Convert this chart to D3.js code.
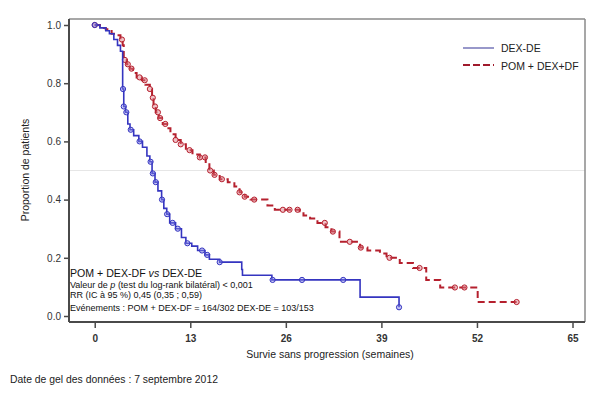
<!DOCTYPE html>
<html>
<head>
<meta charset="utf-8">
<script src="https://cdn.jsdelivr.net/npm/d3@7"></script>
<style>
  body { margin: 0; background: #fff; }
  text { font-family: Arial, "Liberation Sans", sans-serif; }
</style>
</head>
<body>
<div id="chart"></div>
<script>
// weeks / survival proportion
const xTicks = [0, 13, 26, 39, 52, 65];
const yTicks = [0, 0.2, 0.4, 0.6, 0.8, 1.0];

const dexTimes = [0, 0.7, 1.5, 2.0, 2.6, 3.1, 3.5, 3.8, 3.95, 4.2, 4.5, 4.8, 5.3, 6.0, 6.5, 7.1, 7.5, 7.8, 8.2, 8.6, 9.1, 9.4, 9.8, 10.2, 11.0, 11.8, 12.4, 13.2, 14.0, 15.0, 15.6, 17.0, 20.0, 20.1, 24.1, 36.1, 41.4];
const dexSurv  = [1, 0.99, 0.98, 0.97, 0.95, 0.93, 0.91, 0.78, 0.72, 0.70, 0.66, 0.64, 0.62, 0.60, 0.58, 0.55, 0.53, 0.49, 0.46, 0.43, 0.40, 0.37, 0.35, 0.32, 0.30, 0.27, 0.25, 0.24, 0.225, 0.21, 0.195, 0.185, 0.16, 0.14, 0.124, 0.065, 0.03];
const dexCensor = [0, 3.85, 3.95, 4.3, 4.9, 6.1, 7.6, 7.9, 8.3, 9.15, 9.85, 10.6, 11.3, 12.6, 14.6, 15.3, 17.0, 24.2, 28.2, 33.8, 41.4];

const pomTimes = [0, 0.7, 1.5, 2.3, 3.0, 3.5, 3.8, 3.95, 4.35, 4.8, 5.2, 5.7, 6.4, 6.9, 7.5, 7.8, 8.0, 8.3, 8.7, 9.25, 9.8, 10.3, 11.0, 11.7, 12.4, 13.3, 14.3, 15.1, 15.6, 16.2, 17.0, 18.1, 19.0, 19.7, 20.4, 21.2, 23.5, 24.5, 27.9, 28.4, 29.3, 30.3, 31.4, 32.2, 33.3, 36.1, 37.1, 38.8, 39.7, 41.5, 43.3, 45.1, 47.0, 52.1, 57.4];
const pomSurv  = [1, 0.99, 0.985, 0.97, 0.965, 0.95, 0.93, 0.88, 0.865, 0.85, 0.835, 0.82, 0.81, 0.795, 0.78, 0.75, 0.72, 0.70, 0.68, 0.66, 0.645, 0.625, 0.605, 0.59, 0.57, 0.555, 0.545, 0.525, 0.50, 0.485, 0.47, 0.46, 0.445, 0.425, 0.41, 0.40, 0.38, 0.365, 0.36, 0.345, 0.335, 0.32, 0.305, 0.29, 0.255, 0.235, 0.225, 0.215, 0.20, 0.182, 0.165, 0.124, 0.098, 0.048, 0.048];
const pomCensor = [0, 3.7, 4.1, 4.5, 5.0, 6.1, 6.8, 7.5, 7.9, 8.2, 8.6, 8.9, 9.6, 11.0, 11.7, 12.9, 14.3, 15.0, 15.7, 16.3, 17.3, 19.7, 20.4, 21.7, 25.6, 26.5, 27.6, 31.3, 32.4, 34.7, 36.2, 40.1, 44.2, 49.0, 50.3, 57.4];

const W = 605, H = 394;
const frame = { left: 69, top: 19, right: 585, bottom: 322 };

const svg = d3.select("#chart").append("svg")
  .attr("width", W)
  .attr("height", H);

const x = d3.scaleLinear().domain([-3.5, 66.7]).range([frame.left, frame.right]);
const y = d3.scaleLinear().domain([0, 1]).range([316, 25]);

// reference line at 0.5
svg.append("line")
  .attr("x1", frame.left).attr("x2", frame.right)
  .attr("y1", y(0.5)).attr("y2", y(0.5))
  .attr("stroke", "#e6e6e6").attr("stroke-width", 1);

// frame
svg.append("line").attr("x1", frame.left).attr("x2", frame.right).attr("y1", frame.top).attr("y2", frame.top)
  .attr("stroke", "#8a8a8a").attr("stroke-width", 1.5);
svg.append("line").attr("x1", frame.right).attr("x2", frame.right).attr("y1", frame.top).attr("y2", frame.bottom)
  .attr("stroke", "#8a8a8a").attr("stroke-width", 1.5);

const yAxis = svg.append("g")
  .attr("transform", "translate(" + frame.left + ",0)")
  .call(d3.axisLeft(y).tickValues(yTicks).tickFormat(d3.format(".1f")).tickSize(5).tickPadding(3));
yAxis.select(".domain").attr("d", "M0," + frame.top + "V" + frame.bottom);

const xAxis = svg.append("g")
  .attr("transform", "translate(0," + frame.bottom + ")")
  .call(d3.axisBottom(x).tickValues(xTicks).tickSize(6).tickPadding(7));
xAxis.select(".domain").attr("d", "M" + frame.left + ",0H" + frame.right);

svg.selectAll(".domain").attr("stroke", "#4a4a4a").attr("stroke-width", 2);
svg.selectAll(".tick line").attr("stroke", "#4a4a4a").attr("stroke-width", 1.5);
svg.selectAll(".tick text").attr("fill", "#333").style("font-size", "10px")
  .style("font-family", "Arial, sans-serif");
xAxis.selectAll(".tick text").style("font-weight", "bold");

// curves
const line = d3.line()
  .x(d => x(d[0]))
  .y(d => y(d[1]))
  .curve(d3.curveStepAfter);

function survAt(times, surv, t) {
  let s = surv[0];
  for (let i = 0; i < times.length; i++) { if (times[i] <= t) s = surv[i]; }
  return s;
}

const series = [
  { times: pomTimes, surv: pomSurv, censor: pomCensor, color: "#b5202e", fill: "rgba(220,120,130,0.45)", dash: "7,4", width: 2 },
  { times: dexTimes, surv: dexSurv, censor: dexCensor, color: "#3535c0", fill: "rgba(130,130,230,0.45)", dash: null, width: 1.6 }
];

series.forEach(s => {
  svg.append("path")
    .datum(d3.zip(s.times, s.surv))
    .attr("fill", "none")
    .attr("stroke", s.color)
    .attr("stroke-width", s.width)
    .attr("stroke-dasharray", s.dash)
    .attr("d", line);

  svg.append("g").selectAll("circle")
    .data(s.censor)
    .enter().append("circle")
    .attr("cx", d => x(d))
    .attr("cy", d => y(survAt(s.times, s.surv, d)))
    .attr("r", 2.6)
    .attr("fill", s.fill)
    .attr("stroke", s.color)
    .attr("stroke-width", 1);
});

// legend
const legend = svg.append("g");
legend.append("line").attr("x1", 463).attr("x2", 494).attr("y1", 48).attr("y2", 48)
  .attr("stroke", "#7676b8").attr("stroke-width", 1.5);
legend.append("text").attr("x", 501).attr("y", 52).text("DEX-DE")
  .style("font-size", "10.5px").attr("fill", "#222");
legend.append("line").attr("x1", 463).attr("x2", 494).attr("y1", 65).attr("y2", 65)
  .attr("stroke", "#a01a2c").attr("stroke-width", 2).attr("stroke-dasharray", "7,3");
legend.append("text").attr("x", 501).attr("y", 70).text("POM + DEX+DF")
  .style("font-size", "10.5px").attr("fill", "#222");

// annotation block
const note = svg.append("g").attr("fill", "#111");
const t1 = note.append("text").attr("x", 70).attr("y", 277).style("font-size", "10.6px");
t1.append("tspan").text("POM + DEX-DF ");
t1.append("tspan").style("font-style", "italic").text("vs");
t1.append("tspan").text(" DEX-DE");
const t2 = note.append("text").attr("x", 70).attr("y", 288).style("font-size", "9px");
t2.append("tspan").text("Valeur de ");
t2.append("tspan").style("font-style", "italic").text("p");
t2.append("tspan").text(" (test du log-rank bilatéral) < 0,001");
note.append("text").attr("x", 70).attr("y", 298).style("font-size", "9px")
  .text("RR (IC à 95 %) 0,45 (0,35 ; 0,59)");
note.append("text").attr("x", 70).attr("y", 311).style("font-size", "9px")
  .text("Evénements : POM + DEX-DF = 164/302 DEX-DE = 103/153");

// axis titles
svg.append("text")
  .attr("transform", "translate(29," + 170 + ") rotate(-90)")
  .attr("text-anchor", "middle")
  .style("font-size", "10.5px").attr("fill", "#222")
  .text("Proportion de patients");

svg.append("text")
  .attr("x", 330).attr("y", 358)
  .attr("text-anchor", "middle")
  .style("font-size", "10.5px").attr("fill", "#222")
  .text("Survie sans progression (semaines)");

svg.append("text")
  .attr("x", 10).attr("y", 383)
  .style("font-size", "10.4px").attr("fill", "#222")
  .text("Date de gel des données : 7 septembre 2012");
</script>
</body>
</html>
